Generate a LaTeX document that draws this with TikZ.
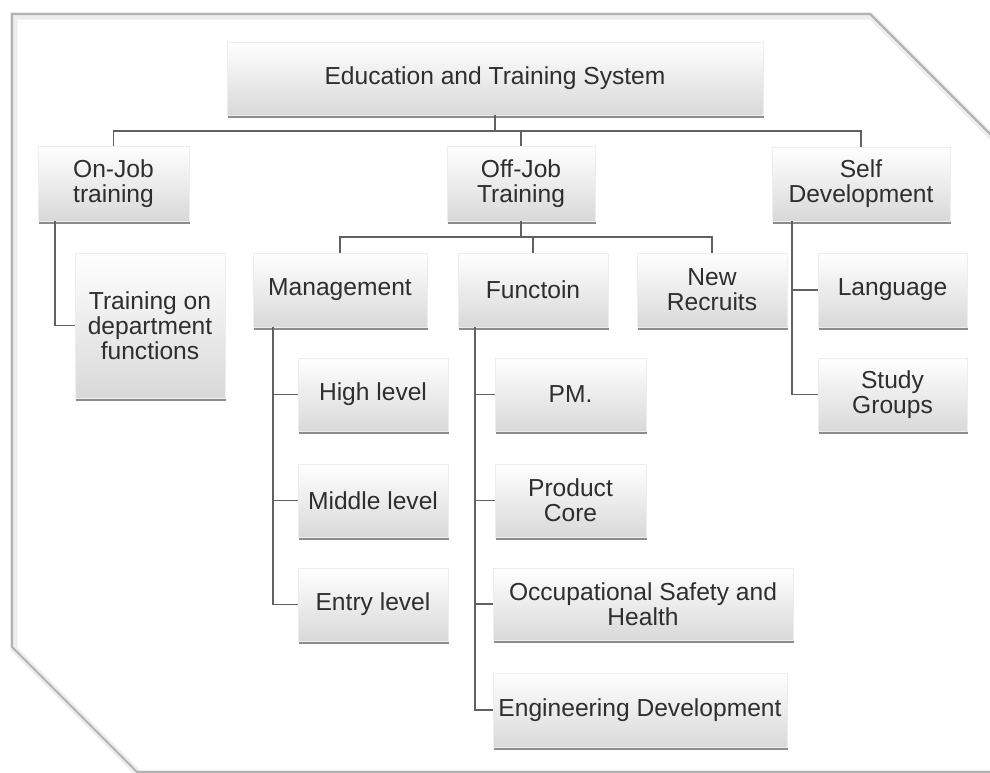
\documentclass[tikz,border=0pt]{standalone}
\usepackage{fontspec}
\setmainfont{Liberation Sans}
\usetikzlibrary{positioning}
\usetikzlibrary{shadows}
\tikzset{
    box/.style = {rectangle, draw=black!7, top color=white, middle color=white!96!black, bottom color=black!15, text=black!82, align=center, inner sep=0pt,
                  font=\fontsize{14}{14.3}\selectfont,
                  drop shadow={shadow xshift=0.5pt, shadow yshift=-1.5pt, fill=black!75, opacity=0.6}},
    boxsize/.style 2 args = {minimum width=#1*0.02cm, minimum height=#2*0.02cm},
    link/.style = {draw=black!62, line width=1.1pt},
    frame/.style = {draw=black!30, line width=1.2pt, line join=miter},
    frameshade/.style = {draw=black!7, line width=4pt},
}

\begin{document}
\begin{tikzpicture}[x=0.02cm,y=-0.02cm]
\clip (0,0) rectangle (990,773);
\fill[white] (0,0) rectangle (990,773);

% outer frame with cut corners
\draw[frameshade] (14,16) -- (871,16) -- (1012,157) -- (1012,774) -- (139,774) -- (14,649) -- cycle;
\draw[frame] (12,14) -- (870,14) -- (1010,154) -- (1010,772) -- (137,772) -- (12,647) -- cycle;

% top level
\node[box,boxsize={536}{73}] at (495,78.5) (root) {Education and Training System};
\node[box,boxsize={151}{75}] at (113.5,183.5) (onjob) {On-Job\\training};
\node[box,boxsize={148}{75}] at (521,183.5) (offjob) {Off-Job\\Training};
\node[box,boxsize={178}{74}] at (861,184) (selfdev) {Self\\Development};

% second level
\node[box,boxsize={150}{145}] at (150,325.5) (dept) {Training on\\department\\functions};
\node[box,boxsize={174}{74}] at (340,290) (mgmt) {Management};
\node[box,boxsize={150}{74}] at (533,290) (func) {Functoin};
\node[box,boxsize={150}{74}] at (712,290) (recruits) {New\\Recruits};
\node[box,boxsize={149}{74}] at (892.5,290) (lang) {Language};
\node[box,boxsize={149}{73}] at (892.5,394.5) (study) {Study\\Groups};

% management levels
\node[box,boxsize={150}{73}] at (373,394.5) (high) {High level};
\node[box,boxsize={150}{73}] at (373,500.5) (middle) {Middle level};
\node[box,boxsize={150}{73}] at (373,604.5) (entry) {Entry level};

% function topics
\node[box,boxsize={151}{73}] at (570.5,394.5) (pm) {PM.};
\node[box,boxsize={151}{73}] at (570.5,500.5) (product) {Product\\Core};
\node[box,boxsize={300}{72}] at (643,604) (osh) {Occupational Safety and\\Health};
\node[box,boxsize={294}{74}] at (640,710) (eng) {Engineering Development};

% buses
\draw[link] (onjob.north) -- ++(0,-15) -| (selfdev.north);
\draw[link] (root.south) -- ++(0,16) -| (offjob.north);
\draw[link] (mgmt.north) -- ++(0,-16) -| (recruits.north);
\draw[link] (offjob.south) -- ++(0,16) -| (func.north);

% branches
\draw[link] (onjob.south west) ++(17,0) |- (dept.west);
\foreach \c in {high,middle,entry}
    \draw[link] (mgmt.south west) ++(20,0) |- (\c.west);
\foreach \c in {pm,product,osh,eng}
    \draw[link] (func.south west) ++(17,0) |- (\c.west);
\foreach \c in {lang,study}
    \draw[link] (selfdev.south west) ++(20,0) |- (\c.west);
\end{tikzpicture}
\end{document}
